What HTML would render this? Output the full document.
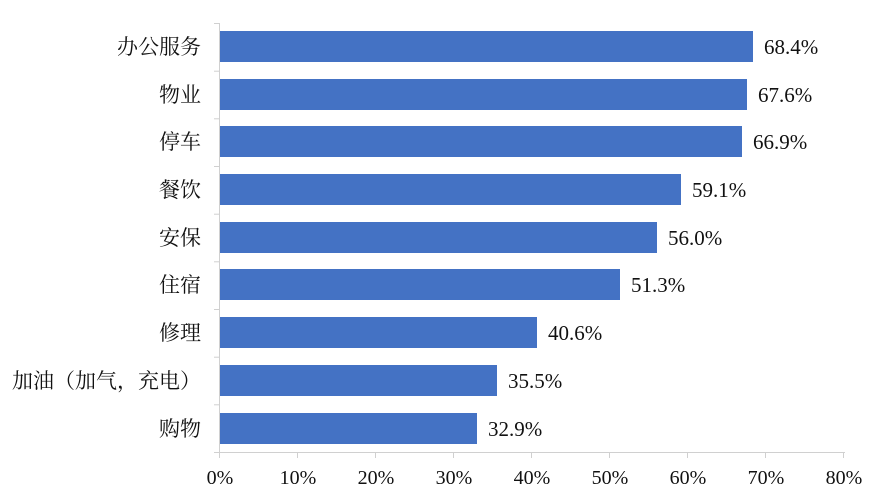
<!DOCTYPE html>
<html><head><meta charset="utf-8"><style>html,body{margin:0;padding:0;background:#fff}svg{display:block}</style></head>
<body>
<svg width="886" height="502" xmlns="http://www.w3.org/2000/svg">
<g stroke="#d0d0d0" stroke-width="1" fill="none">
<line x1="219.5" y1="23" x2="219.5" y2="452"/>
<line x1="219" y1="452.5" x2="845" y2="452.5"/>
</g>
<g stroke="#d0d0d0" stroke-width="1">
<line x1="214" y1="23.5" x2="219" y2="23.5"/><line x1="214" y1="71.2" x2="219" y2="71.2"/><line x1="214" y1="118.8" x2="219" y2="118.8"/><line x1="214" y1="166.5" x2="219" y2="166.5"/><line x1="214" y1="214.2" x2="219" y2="214.2"/><line x1="214" y1="261.8" x2="219" y2="261.8"/><line x1="214" y1="309.5" x2="219" y2="309.5"/><line x1="214" y1="357.2" x2="219" y2="357.2"/><line x1="214" y1="404.8" x2="219" y2="404.8"/><line x1="214" y1="452.5" x2="219" y2="452.5"/>
<line x1="219.5" y1="452" x2="219.5" y2="458"/><line x1="297.5" y1="452" x2="297.5" y2="458"/><line x1="375.5" y1="452" x2="375.5" y2="458"/><line x1="453.5" y1="452" x2="453.5" y2="458"/><line x1="531.5" y1="452" x2="531.5" y2="458"/><line x1="609.5" y1="452" x2="609.5" y2="458"/><line x1="687.5" y1="452" x2="687.5" y2="458"/><line x1="765.5" y1="452" x2="765.5" y2="458"/><line x1="843.5" y1="452" x2="843.5" y2="458"/>
</g>
<g fill="#4472C4">
<rect x="220" y="31" width="533" height="31"/>
<rect x="220" y="79" width="527" height="31"/>
<rect x="220" y="126" width="522" height="31"/>
<rect x="220" y="174" width="461" height="31"/>
<rect x="220" y="222" width="437" height="31"/>
<rect x="220" y="269" width="400" height="31"/>
<rect x="220" y="317" width="317" height="31"/>
<rect x="220" y="365" width="277" height="31"/>
<rect x="220" y="413" width="257" height="31"/>
</g>
<g font-family="'Liberation Serif','Noto Serif CJK SC',serif" font-size="21" fill="#111">
<text x="764" y="54">68.4%</text>
<text x="758" y="102">67.6%</text>
<text x="753" y="149">66.9%</text>
<text x="692" y="197">59.1%</text>
<text x="668" y="245">56.0%</text>
<text x="631" y="292">51.3%</text>
<text x="548" y="340">40.6%</text>
<text x="508" y="388">35.5%</text>
<text x="488" y="436">32.9%</text>
</g>
<g font-family="'Liberation Serif','Noto Serif CJK SC',serif" font-size="21" fill="#111" text-anchor="end">
<text x="201" y="54">办公服务</text>
<text x="201" y="102">物业</text>
<text x="201" y="149">停车</text>
<text x="201" y="197">餐饮</text>
<text x="201" y="245">安保</text>
<text x="201" y="292">住宿</text>
<text x="201" y="340">修理</text>
<text x="201" y="388">加油（加气，充电）</text>
<text x="201" y="436">购物</text>
</g>
<g font-family="'Liberation Serif',serif" font-size="20" fill="#111" text-anchor="middle">
<text x="220" y="484">0%</text><text x="298" y="484">10%</text><text x="376" y="484">20%</text><text x="454" y="484">30%</text><text x="532" y="484">40%</text><text x="610" y="484">50%</text><text x="688" y="484">60%</text><text x="766" y="484">70%</text><text x="844" y="484">80%</text>
</g>
</svg>
</body></html>
